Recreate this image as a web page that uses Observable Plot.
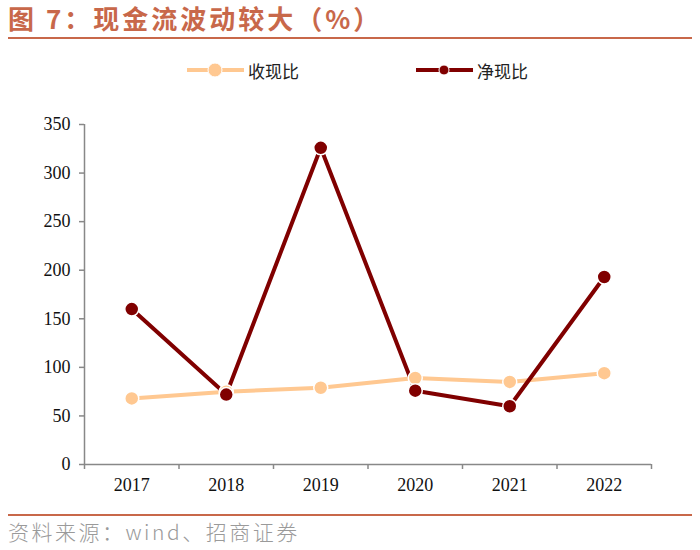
<!DOCTYPE html>
<html><head><meta charset="utf-8">
<script src="https://cdn.jsdelivr.net/npm/d3@7"></script>
<script src="https://cdn.jsdelivr.net/npm/@observablehq/plot@0.6"></script>
<style>
body{margin:0;width:700px;height:550px;position:relative;background:#fff;font-family:"Noto Sans CJK SC",sans-serif;overflow:hidden}
#title{position:absolute;left:8px;top:0px;font-size:26px;font-weight:bold;color:#C8684A;letter-spacing:3px;white-space:nowrap;line-height:36px}
.hr{position:absolute;left:8px;width:684px;height:2px;background:#C8684A}
#legend{position:absolute;top:56px;left:0;width:700px;height:28px}
.li{position:absolute;top:0;display:flex;align-items:center;font-size:17px;color:#222}
#chart{position:absolute;left:0;top:100px}
#src{position:absolute;left:8px;top:516px;font-size:21px;color:#9a9a9a;white-space:nowrap;line-height:30px;letter-spacing:2.5px;font-weight:300}
</style></head><body>
<div id="title">图 7：现金流波动较大（%）</div>
<div class="hr" style="top:37px"></div>
<div id="legend"></div>
<div id="chart"></div>
<div class="hr" style="top:514px;height:2px"></div>
<div id="src">资料来源：wind、招商证券</div>
<script>
const years = [2017, 2018, 2019, 2020, 2021, 2022];
const shouxian = [68, 75, 79, 89, 85, 94];
const jingxian = [160, 72, 326, 76, 60, 193];
const seriesNames = ["收现比", "净现比"];
const colors = ["#FFC891", "#800000"];
const yTicks = [0, 50, 100, 150, 200, 250, 300, 350];

const data = [];
years.forEach((y, i) => {
  data.push({year: y, value: shouxian[i], s: seriesNames[0]});
  data.push({year: y, value: jingxian[i], s: seriesNames[1]});
});
const bounds = years.map(y => y - 0.5).concat([years[years.length - 1] + 0.5]);

const plot = Plot.plot({
  width: 700, height: 400,
  marginLeft: 84, marginRight: 49, marginTop: 24, marginBottom: 36,
  style: {fontFamily: "'Liberation Serif', 'Times New Roman', serif", fontSize: "18px", color: "#111", background: "transparent"},
  x: {domain: [bounds[0], bounds[bounds.length - 1]]},
  y: {domain: [0, 350]},
  color: {domain: seriesNames, range: colors},
  marks: [
    Plot.axisY({ticks: yTicks, tickSize: 5, tickPadding: 9, label: null, stroke: "#888", strokeWidth: 1.5, fontSize: 18}),
    Plot.axisX({ticks: years, tickSize: 0, tickPadding: 14, tickFormat: d => String(d), label: null, fontSize: 18}),
    Plot.axisX({ticks: bounds, tickSize: 5, tickFormat: () => "", label: null, stroke: "#888", strokeWidth: 1.5}),
    Plot.ruleY([0], {stroke: "#888", strokeWidth: 1.5}),
    Plot.ruleX([bounds[0]], {stroke: "#888", strokeWidth: 1.5}),
    Plot.line(data, {x: "year", y: "value", z: "s", stroke: "s", strokeWidth: 4}),
    Plot.dot(data, {x: "year", y: "value", fill: "s", stroke: "white", strokeWidth: 1.5, r: 7})
  ]
});
document.getElementById("chart").appendChild(plot);

// legend
const leg = document.getElementById("legend");
const items = [{name: seriesNames[0], color: colors[0], x: 186, r: 7}, {name: seriesNames[1], color: colors[1], x: 415, r: 5}];
items.forEach(it => {
  const d = document.createElement("div");
  d.className = "li";
  d.style.left = it.x + "px";
  d.innerHTML = `<svg width="60" height="28"><line x1="1" x2="58" y1="14" y2="14" stroke="${it.color}" stroke-width="4"/><circle cx="29" cy="14" r="${it.r}" fill="${it.color}" stroke="white" stroke-width="1"/></svg><span style="margin-left:2px">${it.name}</span>`;
  leg.appendChild(d);
});
</script>
</body></html>
